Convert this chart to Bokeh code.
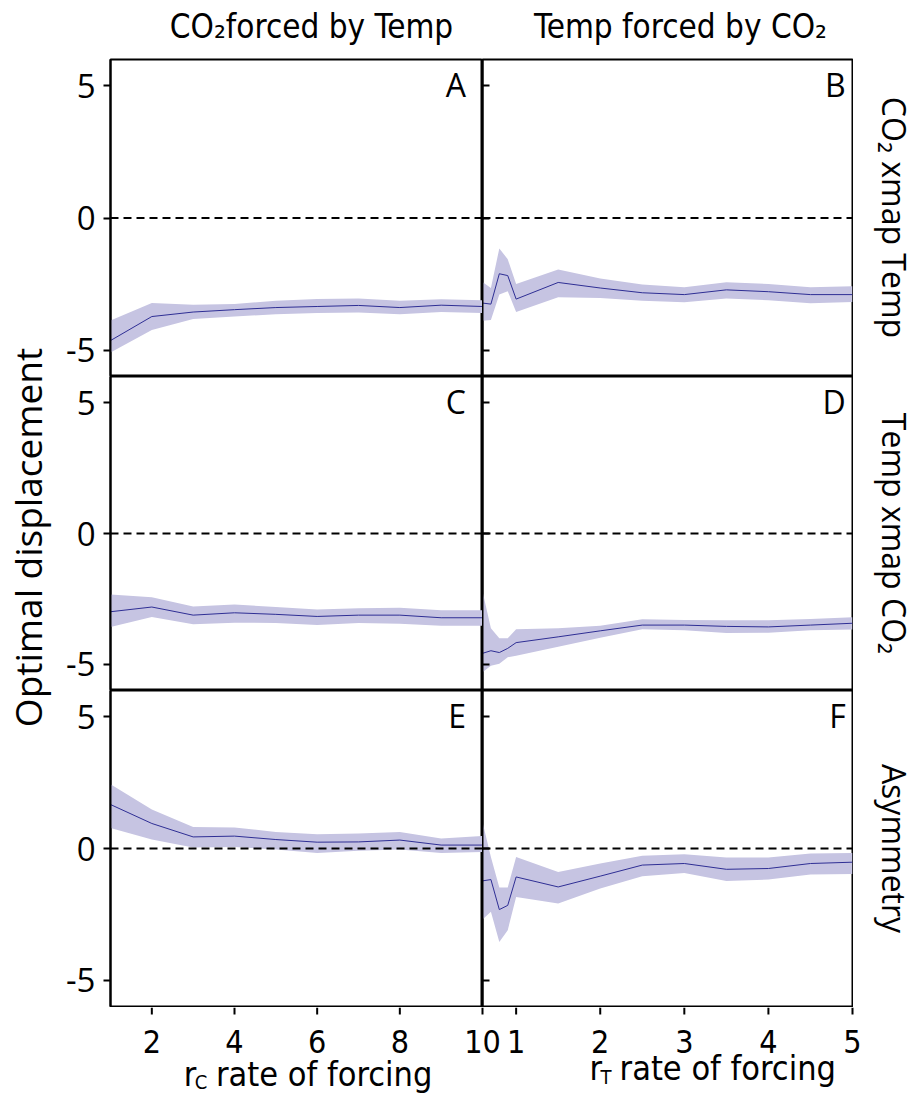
import math

from bokeh.plotting import figure
from bokeh.layouts import column, row
from bokeh.models import Span, Label, FixedTicker, Range1d
from bokeh.core.properties import value
from bokeh.embed import file_html
from bokeh.resources import INLINE

# ---- rate-of-forcing grids ----
r_c = [1, 2, 3, 4, 5, 6, 7, 8, 9, 10]
r_t = [0.6, 0.7, 0.8, 0.9, 1.0, 1.5, 2.0, 2.5, 3.0, 3.5, 4.0, 4.5, 5.0]

# ---- A: CO2 xmap Temp, CO2 forced by Temp ----
a_mid = [-4.64, -3.73, -3.56, -3.47, -3.39, -3.35, -3.31, -3.39, -3.30, -3.35]
a_lo = [-5.09, -4.24, -3.82, -3.73, -3.64, -3.60, -3.58, -3.64, -3.56, -3.60]
a_hi = [-3.88, -3.22, -3.28, -3.26, -3.13, -3.07, -3.05, -3.13, -3.08, -3.11]

# ---- B: CO2 xmap Temp, Temp forced by CO2 ----
b_mid = [-3.22, -3.26, -2.11, -2.18, -3.07, -2.44, -2.65, -2.83, -2.90, -2.72, -2.79, -2.90, -2.90]
b_lo = [-3.89, -3.86, -2.90, -2.77, -3.56, -3.00, -3.03, -3.13, -3.19, -3.05, -3.11, -3.23, -3.18]
b_hi = [-2.42, -2.65, -1.15, -1.56, -2.50, -1.95, -2.29, -2.52, -2.62, -2.43, -2.50, -2.62, -2.58]

# ---- C: Temp xmap CO2, CO2 forced by Temp ----
c_mid = [-2.99, -2.81, -3.12, -3.03, -3.09, -3.17, -3.12, -3.12, -3.22, -3.22]
c_lo = [-3.57, -3.19, -3.47, -3.41, -3.42, -3.50, -3.42, -3.45, -3.53, -3.53]
c_hi = [-2.33, -2.44, -2.79, -2.71, -2.81, -2.90, -2.86, -2.84, -2.93, -2.93]

# ---- D: Temp xmap CO2, Temp forced by CO2 ----
d_mid = [-4.58, -4.48, -4.55, -4.39, -4.17, -3.95, -3.72, -3.50, -3.50, -3.55, -3.57, -3.50, -3.43]
d_lo = [-5.30, -5.05, -4.98, -4.73, -4.67, -4.33, -3.98, -3.66, -3.70, -3.80, -3.79, -3.70, -3.67]
d_hi = [-2.21, -3.62, -4.00, -4.00, -3.66, -3.62, -3.53, -3.28, -3.31, -3.32, -3.32, -3.27, -3.20]

# ---- E: asymmetry, CO2 forced by Temp ----
e_mid = [1.67, 0.95, 0.44, 0.47, 0.34, 0.24, 0.25, 0.32, 0.13, 0.13]
e_lo = [0.78, 0.34, 0.04, 0.06, -0.04, -0.17, -0.09, -0.04, -0.17, -0.13]
e_hi = [2.44, 1.48, 0.82, 0.80, 0.63, 0.54, 0.57, 0.63, 0.38, 0.48]

# ---- F: asymmetry, Temp forced by CO2 ----
f_mid = [-1.23, -1.18, -2.32, -2.16, -1.08, -1.46, -1.05, -0.63, -0.57, -0.79, -0.76, -0.57, -0.52]
f_lo = [-2.70, -2.40, -3.55, -3.10, -1.84, -2.09, -1.52, -1.05, -0.93, -1.23, -1.18, -0.99, -0.97]
f_hi = [1.01, -0.32, -1.48, -1.48, -0.32, -0.89, -0.57, -0.28, -0.22, -0.34, -0.34, -0.19, -0.17]

y_ticks = [-5, 0, 5]
y_tick_labels = ["-5", "0", "5"]
rc_ticks = [2, 4, 6, 8, 10]
rc_tick_labels = ["2", "4", "6", "8", "10"]
rt_ticks = [1, 2, 3, 4, 5]
rt_tick_labels = ["1", "2", "3", "4", "5"]

col_titles = ["CO₂forced by Temp", "Temp forced by CO₂"]
row_titles = ["CO₂ xmap Temp", "Temp xmap CO₂", "Asymmetry"]
y_title = "Optimal displacement"
letters = ["A", "B", "C", "D", "E", "F"]

FONT = "Open Sans"
NARROW = "DejaVu Sans Condensed, Roboto, sans-serif"
BAND = "#c6c4e2"
LINE = "#2e2e94"

# ---- page geometry (pixels) ----
W = 921
TOP_H, BOTTOM_H = 58, 95
SIDE_L, SIDE_R = 55, 68
FRAME_L, FRAME_M, FRAME_R = 110, 482, 852
ROW_H = [318, 314, 317]           # row 1 / row 3 carry 1px edge borders
MID_H = sum(ROW_H)
RC_DOM, RT_DOM = (1, 10), (0.6, 5)


def blank(width, height, x_range, y_range):
    p = figure(width=width, height=height, x_range=x_range, y_range=y_range,
               output_backend="svg", toolbar_location=None,
               x_axis_location=None, y_axis_location=None,
               min_border_left=0, min_border_right=0,
               min_border_top=0, min_border_bottom=0,
               outline_line_color=None,
               background_fill_color="white", border_fill_color="white")
    p.grid.visible = False
    return p


def make_panel(col, r, x, lo, mid, hi, letter, letter_x):
    left = col == 0
    p = figure(
        width=(FRAME_M - SIDE_L) if left else (FRAME_R - FRAME_M + 1),
        height=ROW_H[r],
        x_range=Range1d(*(RC_DOM if left else RT_DOM)),
        y_range=Range1d(-6, 6),
        output_backend="svg",
        toolbar_location=None,
        x_axis_location=None,
        min_border_left=(FRAME_L - SIDE_L) if left else 0,
        min_border_right=0 if left else 1,
        min_border_top=1 if r == 0 else 0,
        min_border_bottom=1 if r == 2 else 0,
        background_fill_color="white",
        border_fill_color="white",
    )
    p.outline_line_color = "black"
    p.outline_line_width = 2
    p.grid.visible = False

    ya = p.yaxis[0]
    ya.ticker = FixedTicker(ticks=y_ticks)
    ya.minor_tick_line_color = None
    ya.axis_line_width = 2
    ya.major_tick_line_width = 2
    if left:
        ya.major_label_overrides = dict(zip(y_ticks, y_tick_labels))
        ya.major_tick_out = 7
        ya.major_tick_in = 0
        ya.major_label_standoff = 8
        ya.major_label_text_font = FONT
        ya.major_label_text_font_size = "33px"
        ya.major_label_text_color = "black"
    else:
        # inward ticks only, no numbers on the shared edge
        ya.major_label_overrides = {t: "" for t in y_ticks}
        ya.major_tick_out = 0
        ya.major_tick_in = 7
        ya.major_label_standoff = 0

    p.varea(x=x, y1=lo, y2=hi, fill_color=BAND, fill_alpha=1.0)
    p.line(x=x, y=mid, line_color=LINE, line_width=1)
    p.add_layout(Span(location=0, dimension="width", line_color="black",
                      line_width=2, line_dash="8 5"))
    p.add_layout(Label(x=letter_x, y=5.86, text=letter, text_align="right",
                       text_baseline="top", text_font=FONT, text_font_size="32px",
                       text_color="black"))
    return p


panels = [
    make_panel(0, 0, r_c, a_lo, a_mid, a_hi, letters[0], 9.6),
    make_panel(1, 0, r_t, b_lo, b_mid, b_hi, letters[1], 4.92),
    make_panel(0, 1, r_c, c_lo, c_mid, c_hi, letters[2], 9.6),
    make_panel(1, 1, r_t, d_lo, d_mid, d_hi, letters[3], 4.92),
    make_panel(0, 2, r_c, e_lo, e_mid, e_hi, letters[4], 9.6),
    make_panel(1, 2, r_t, f_lo, f_mid, f_hi, letters[5], 4.92),
]

# ---- column titles (pixel coordinates, y grows downward) ----
top = blank(W, TOP_H, Range1d(0, W), Range1d(TOP_H, 0))
top.text(x=[311, 680], y=[26, 26], text=col_titles,
         text_font=value(NARROW), text_font_size="33px", text_color="black",
         text_align="center", text_baseline="alphabetic")

# ---- shared y title ----
left_strip = blank(SIDE_L, MID_H, Range1d(0, SIDE_L), Range1d(MID_H, 0))
left_strip.text(x=[27], y=[537 - TOP_H], text=[y_title], angle=math.pi / 2,
                text_font=value(FONT), text_font_size="37px", text_color="black",
                text_align="center", text_baseline="middle")

# ---- row titles ----
right_strip = blank(SIDE_R, MID_H, Range1d(0, SIDE_R), Range1d(MID_H, 0))
row_centres = [217 - TOP_H, 533 - TOP_H, 848 - TOP_H]
right_strip.text(x=[41, 41, 41], y=row_centres, text=row_titles, angle=-math.pi / 2,
                 text_font=value(FONT), text_font_size="32px", text_color="black",
                 text_align="center", text_baseline="middle")


# ---- bottom strip: x axes of both columns ----
def matched_range(dom, px0, px1):
    """Range whose scale across the full strip width equals a panel's scale."""
    k = (dom[1] - dom[0]) / (px1 - px0)
    return Range1d(dom[0] - px0 * k, dom[0] + (W - px0) * k)


bottom = blank(W, BOTTOM_H, matched_range(RC_DOM, FRAME_L, FRAME_M), Range1d(BOTTOM_H, 0))
bottom.extra_x_ranges = {"rt": matched_range(RT_DOM, FRAME_M, FRAME_R)}

TICK = 7
for ticks, labels, rng in ((rc_ticks, rc_tick_labels, "default"),
                           (rt_ticks, rt_tick_labels, "rt")):
    n = len(ticks)
    bottom.segment(x0=ticks, y0=[0] * n, x1=ticks, y1=[TICK] * n,
                   line_color="black", line_width=2, x_range_name=rng)
    bottom.text(x=ticks, y=[34] * n, text=labels, x_range_name=rng,
                text_font=value(NARROW), text_font_size="32px",
                text_align="center", text_baseline="middle", text_color="black")


def x_title(xr, xs, xt, y0, ys, sub, rng):
    kw = dict(text_font=value(NARROW), text_color="black",
              text_baseline="alphabetic", text_align="left", x_range_name=rng)
    bottom.text(x=[xr], y=[y0], text=["r"], text_font_size="34px", **kw)
    bottom.text(x=[xs], y=[ys], text=[sub], text_font_size="20px", **kw)
    bottom.text(x=[xt], y=[y0], text=["rate of forcing"], text_font_size="34px", **kw)


# r_C: left column scale, r_T: right column scale
x_title(2.77, 3.04, 3.55, 66, 74, "C", "default")
x_title(1.872, 2.003, 2.23, 60, 69, "T", "rt")

grid = column(row(panels[0], panels[1]), row(panels[2], panels[3]),
              row(panels[4], panels[5]))
layout = column(top, row(left_strip, grid, right_strip), bottom)

with open("out.html", "w") as f:
    f.write(file_html(layout, INLINE))
